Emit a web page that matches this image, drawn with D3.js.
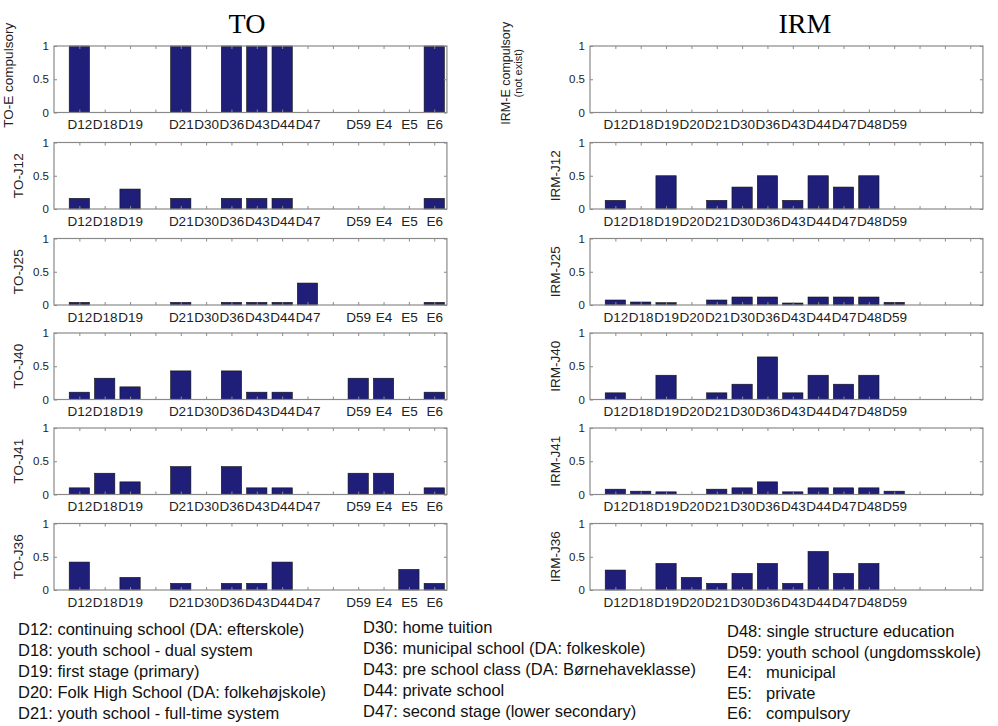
<!DOCTYPE html>
<html>
<head>
<meta charset="utf-8">
<script src="https://cdn.jsdelivr.net/npm/d3@7"></script>
<style>
  html, body { margin: 0; padding: 0; background: #fff; }
  svg { display: block; }
</style>
</head>
<body>
<svg id="chart" width="998" height="726"></svg>
<script>
// ---------- DATA ----------
const categories = ["D12","D18","D19","D20","D21","D30","D36","D43","D44","D47","D48","D59","E4","E5","E6"];
const toTickLabels  = ["D12","D18","D19","","D21","D30","D36","D43","D44","D47","","D59","E4","E5","E6"];
const irmTickLabels = ["D12","D18","D19","D20","D21","D30","D36","D43","D44","D47","D48","D59","","",""];
const yTicks = [0, 0.5, 1];

const panelNamesTO  = ["TO-E compulsory","TO-J12","TO-J25","TO-J40","TO-J41","TO-J36"];
const panelNamesIRM = ["IRM-E compulsory","IRM-J12","IRM-J25","IRM-J40","IRM-J41","IRM-J36"];

const toE   = [1,0,0,0,1,0,1,1,1,0,0,0,0,0,1];
const toJ12 = [0.16,0,0.30,0,0.16,0,0.16,0.16,0.16,0,0,0,0,0,0.16];
const toJ25 = [0.04,0,0,0,0.04,0,0.04,0.04,0.04,0.33,0,0,0,0,0.04];
const toJ40 = [0.11,0.32,0.19,0,0.43,0,0.43,0.11,0.11,0,0,0.32,0.32,0,0.11];
const toJ41 = [0.10,0.32,0.19,0,0.42,0,0.42,0.10,0.10,0,0,0.32,0.32,0,0.10];
const toJ36 = [0.42,0,0.19,0,0.10,0,0.10,0.10,0.42,0,0,0,0,0.31,0.10];

const irmE   = [0,0,0,0,0,0,0,0,0,0,0,0,0,0,0];
const irmJ12 = [0.13,0,0.50,0,0.13,0.33,0.50,0.13,0.50,0.33,0.50,0,0,0,0];
const irmJ25 = [0.075,0.045,0.035,0,0.075,0.12,0.12,0.03,0.12,0.12,0.12,0.04,0,0,0];
const irmJ40 = [0.10,0,0.365,0,0.10,0.23,0.64,0.10,0.365,0.23,0.365,0,0,0,0];
const irmJ41 = [0.08,0.05,0.04,0,0.08,0.10,0.19,0.04,0.10,0.10,0.10,0.05,0,0,0];
const irmJ36 = [0.30,0,0.40,0.19,0.10,0.25,0.40,0.10,0.58,0.25,0.40,0,0,0,0];

const legendCol1 = ["D12: continuing school (DA: efterskole)","D18: youth school - dual system","D19: first stage (primary)","D20: Folk High School (DA: folkehøjskole)","D21: youth school - full-time system"];
const legendCol2 = ["D30: home tuition","D36: municipal school (DA: folkeskole)","D43: pre school class (DA: Børnehaveklasse)","D44: private school","D47: second stage (lower secondary)"];
const legendCol3Keys = ["D48: single structure education","D59: youth school (ungdomsskole)","E4:","E5:","E6:"];
const legendCol3Text = ["","","municipal","private","compulsory"];

// ---------- LAYOUT ----------
const svg = d3.select("#chart");
const FONT = "'Liberation Sans', Arial, Helvetica, sans-serif";
const BAR = "#1f1f7a";
const panelTops = [46, 142.5, 238.5, 333, 428, 523.5];
const panelH = 66.5;
const colLeft = [54, 590];
const slot = 25.35;
const panelW = slot * 15.5;

function drawPanel(x0, y0, values, tickLabels, name, isRight, idx) {
  const g = svg.append("g").attr("transform", `translate(${x0},${y0})`);
  const x = d3.scaleLinear().domain([0, 15.5]).range([0, panelW]);
  const y = d3.scaleLinear().domain([0, 1]).range([panelH, 0]);

  const data = values.map((v, i) => ({ i: i + 1, v }));
  g.selectAll("rect.bar").data(data.filter(d => d.v > 0)).enter().append("rect")
    .attr("class", "bar")
    .attr("x", d => x(d.i - 0.4))
    .attr("width", x(0.8) - x(0))
    .attr("y", d => y(d.v))
    .attr("height", d => y(0) - y(d.v))
    .attr("fill", BAR)
    .attr("stroke", "#111")
    .attr("stroke-width", 0.6);

  g.append("rect").attr("x", 0).attr("y", 0).attr("width", panelW).attr("height", panelH)
    .attr("fill", "none").attr("stroke", "#8a8a8a").attr("stroke-width", 1.2);

  const xAxisB = d3.axisBottom(x).tickValues(d3.range(1, 16))
    .tickFormat((d) => tickLabels[d - 1]).tickSizeInner(-3).tickSizeOuter(0).tickPadding(7);
  const gxb = g.append("g").attr("transform", `translate(0,${panelH})`).call(xAxisB);
  gxb.select(".domain").remove();
  gxb.selectAll(".tick line").attr("stroke", "#8a8a8a");
  gxb.selectAll(".tick text").attr("font-family", FONT).attr("font-size", 13.5).attr("fill", "#222");

  const xAxisT = d3.axisTop(x).tickValues(d3.range(1, 16)).tickFormat("").tickSizeInner(-3).tickSizeOuter(0);
  const gxt = g.append("g").call(xAxisT);
  gxt.select(".domain").remove();
  gxt.selectAll(".tick line").attr("stroke", "#8a8a8a");

  const yAxisL = d3.axisLeft(y).tickValues(yTicks).tickFormat(d3.format("")).tickSizeInner(-3).tickSizeOuter(0).tickPadding(5);
  const gyl = g.append("g").call(yAxisL);
  gyl.select(".domain").remove();
  gyl.selectAll(".tick line").attr("stroke", "#8a8a8a");
  gyl.selectAll(".tick text").attr("font-family", FONT).attr("font-size", 11.5).attr("fill", "#222");

  const yAxisR = d3.axisRight(y).tickValues(yTicks).tickFormat("").tickSizeInner(-3).tickSizeOuter(0);
  const gyr = g.append("g").attr("transform", `translate(${panelW},0)`).call(yAxisR);
  gyr.select(".domain").remove();
  gyr.selectAll(".tick line").attr("stroke", "#8a8a8a");

  const cy = y0 + panelH / 2;
  if (idx === 0 && isRight) {
    const t = svg.append("text").attr("font-family", FONT).attr("fill", "#222")
      .attr("text-anchor", "middle")
      .attr("transform", `translate(510,${cy - 6}) rotate(-90)`);
    t.append("tspan").attr("x", 0).attr("y", 0).attr("font-size", 12.5).text(name);
    t.append("tspan").attr("x", 0).attr("y", 12).attr("font-size", 11).text("(not exist)");
  } else {
    const lx = isRight ? 560 : (idx === 0 ? 13 : 23);
    svg.append("text").attr("font-family", FONT).attr("fill", "#222")
      .attr("font-size", 13.5).attr("text-anchor", "middle")
      .attr("transform", `translate(${lx},${idx === 0 ? cy - 4 : cy}) rotate(-90)`)
      .text(name);
  }
}

const toSeries = [toE, toJ12, toJ25, toJ40, toJ41, toJ36];
const irmSeries = [irmE, irmJ12, irmJ25, irmJ40, irmJ41, irmJ36];
toSeries.forEach((s, i) => drawPanel(colLeft[0], panelTops[i], s, toTickLabels, panelNamesTO[i], false, i));
irmSeries.forEach((s, i) => drawPanel(colLeft[1], panelTops[i], s, irmTickLabels, panelNamesIRM[i], true, i));

svg.append("text").attr("x", 247).attr("y", 33).attr("text-anchor", "middle")
  .attr("font-family", "'Liberation Serif', 'Times New Roman', serif").attr("font-size", 28).attr("fill", "#000").text("TO");
svg.append("text").attr("x", 805).attr("y", 33).attr("text-anchor", "middle")
  .attr("font-family", "'Liberation Serif', 'Times New Roman', serif").attr("font-size", 28).attr("fill", "#000").text("IRM");

const lg = svg.append("g").attr("font-family", FONT).attr("font-size", 16.5).attr("fill", "#111");
legendCol1.forEach((t, i) => lg.append("text").attr("x", 18).attr("y", 635 + i * 21).text(t));
legendCol2.forEach((t, i) => lg.append("text").attr("x", 363).attr("y", 633 + i * 21).text(t));
legendCol3Keys.forEach((t, i) => lg.append("text").attr("x", 727).attr("y", 637 + i * 20.6).text(t));
legendCol3Text.forEach((t, i) => { if (t) lg.append("text").attr("x", 766).attr("y", 637 + i * 20.6).text(t); });
</script>
</body>
</html>
